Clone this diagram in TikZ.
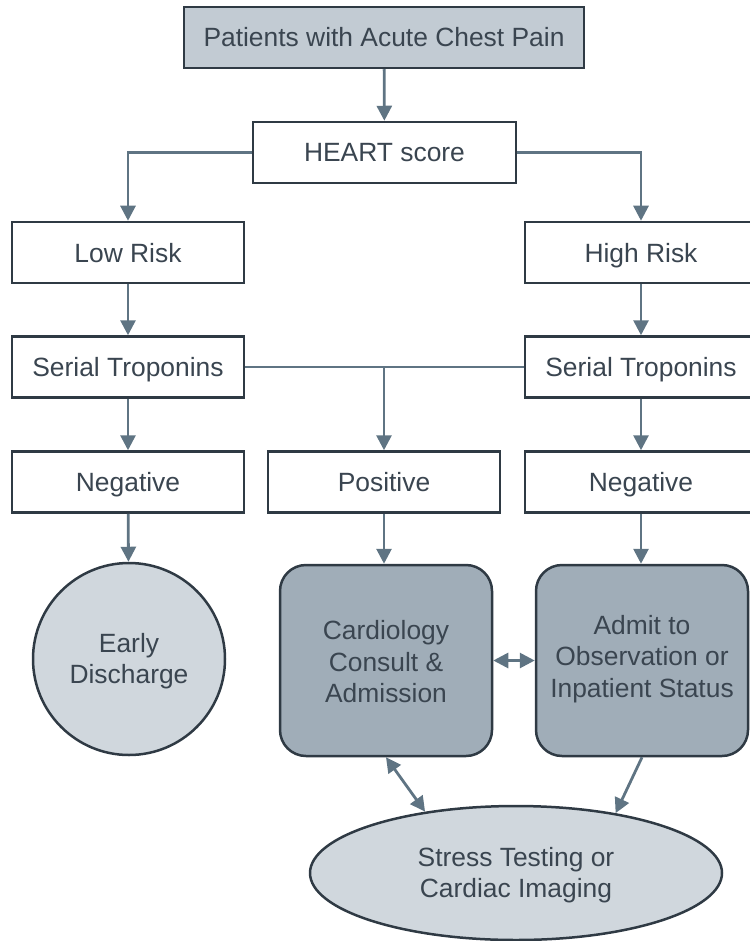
\documentclass[tikz,border=0pt]{standalone}
\usepackage{fontspec}
\setmainfont{Liberation Sans}
\usetikzlibrary{arrows.meta,shapes.geometric}
\definecolor{edgec}{HTML}{5F7483}
\definecolor{borderc}{HTML}{2F3A44}
\definecolor{textc}{HTML}{3A4550}
\definecolor{topfill}{HTML}{C2CBD3}
\definecolor{lightfill}{HTML}{D0D7DD}
\definecolor{darkfill}{HTML}{A0ADB8}
\begin{document}
\begin{tikzpicture}[x=1pt,y=-1pt,
  lbl/.style={text=textc,font=\fontsize{26.4}{31.5}\selectfont,align=center,inner sep=0pt},
  box/.style={lbl,text height=24pt,text depth=5pt,draw=borderc,line width=2.5pt,fill=white,minimum width=232pt,minimum height=61pt},
  topbox/.style={box,fill=topfill,minimum width=400pt},
  rbox/.style={lbl,draw=borderc,line width=2.5pt,fill=darkfill,rounded corners=26pt,minimum width=212pt,minimum height=191pt},
  circ/.style={lbl,draw=borderc,line width=2.5pt,fill=lightfill,circle,minimum size=192pt},
  ell/.style={lbl,draw=borderc,line width=2.5pt,fill=lightfill,ellipse,minimum width=412pt,minimum height=134pt},
  link/.style={draw=edgec,line width=2.8pt},
  conn/.style={link,-{Triangle[length=15pt,width=15pt]}},
  dconn/.style={link,{Triangle[length=15pt,width=15pt]}-{Triangle[length=15pt,width=15pt]}}
]
\useasboundingbox (0,0) rectangle (749,941);

\node[topbox] (top) at (384,37.5) {Patients with Acute Chest Pain};
\node[box,minimum width=263pt] (heart) at (384.5,152.5) {HEART score};
\node[box] (low) at (128,252.5) {Low Risk};
\node[box] (high) at (641,252.5) {High Risk};
\node[box] (serl) at (128,367) {Serial Troponins};
\node[box] (serr) at (641,367) {Serial Troponins};
\node[box] (negl) at (128,482) {Negative};
\node[box] (pos) at (384,482) {Positive};
\node[box] (negr) at (641,482) {Negative};
\node[circ] (early) at (129,659) {};
\node[lbl] (earlyt) at (129,661) {Early\\Discharge};
\node[rbox] (card) at (386,660.5) {};
\node[lbl] (cardt) at (386,662) {Cardiology\\Consult \&\\Admission};
\node[rbox] (admit) at (642,660.5) {};
\node[lbl] (admitt) at (642,659) {Admit to\\Observation or\\Inpatient Status};
\node[ell] (stress) at (516,873) {};
\node[lbl] (stresst) at (516,875) {Stress Testing or\\Cardiac Imaging};

\coordinate (j) at (384,367);

\draw[conn] (top) -- (heart);
\draw[conn] (heart.west) -| (low);
\draw[conn] (heart.east) -| (high);
\draw[conn] (low) -- (serl);
\draw[conn] (high) -- (serr);
\draw[link] (serl.east) -- (serr.west);
\draw[conn] (j) -- (pos);
\draw[conn] (serl) -- (negl);
\draw[conn] (serr) -- (negr);
\draw[conn] (negl) -- (early);
\draw[conn] (pos.south) -- (pos.south |- card.north);
\draw[conn] (negr.south) -- (negr.south |- admit.north);
\draw[dconn] (card.east) -- (admit.west);
\draw[dconn] (card.south) -- (stress.146);
\draw[conn] (admit.south) -- (stress.31);
\end{tikzpicture}
\end{document}
